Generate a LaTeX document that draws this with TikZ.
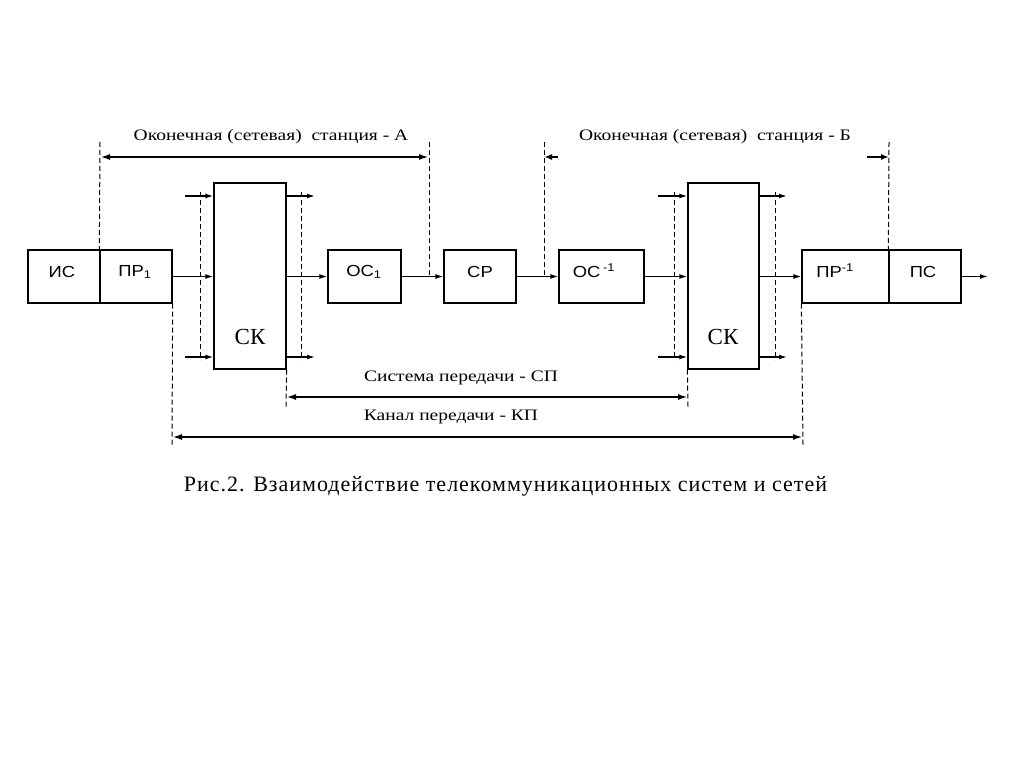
\documentclass[tikz,border=0pt]{standalone}
\usepackage{fontspec}
\setmainfont{Liberation Serif}
\newfontfamily\arialf[FakeStretch=1.15]{Liberation Sans}
\newfontfamily\lblf[FakeStretch=1.22]{Liberation Serif}
\newfontfamily\capf[LetterSpace=4.5]{Liberation Serif}
\usetikzlibrary{arrows.meta}
\tikzset{
  blk/.style={draw,line width=1.3pt,minimum height=53pt,inner sep=0pt},
  btxt/.style={font=\arialf\fontsize{16}{18}\selectfont,inner sep=0pt},
  cktxt/.style={font=\fontsize{23}{26}\selectfont,inner sep=0pt},
  dimtxt/.style={font=\lblf\fontsize{16}{18}\selectfont,inner sep=0pt},
  flow/.style={line width=1.3pt,-{Latex[length=8pt,width=5pt]}},
  dsh/.style={line width=1pt,dash pattern=on 5pt off 3pt},
  dimline/.style={line width=2pt,{Latex[length=10pt,width=6pt]}-{Latex[length=10pt,width=6pt]}},
  tick/.style={line width=2pt,-{Latex[length=8pt,width=6pt]}},
}
\begin{document}
\begin{tikzpicture}[x=1pt,y=-1pt]
\useasboundingbox (0,0) rectangle (1024,767);
% boxes
\node[blk,minimum width=72pt] (is) at (64,276.5) {};
\node[blk,minimum width=72pt] (pr1) at (136,276.5) {};
\node[blk,minimum width=72pt,minimum height=186pt] (ck1) at (250,276) {};
\node[blk,minimum width=73pt] (oc1) at (364.5,276.5) {};
\node[blk,minimum width=72pt] (cp) at (480,276.5) {};
\node[blk,minimum width=85pt] (oci) at (601.5,276.5) {};
\node[blk,minimum width=71pt,minimum height=186pt] (ck2) at (723.5,276) {};
\node[blk,minimum width=87pt] (pri) at (845.5,276.5) {};
\node[blk,minimum width=72pt] (pc) at (925,276.5) {};
% labels
\node[btxt] (tis) at (62,272) {ИС};
\node[btxt] (tpr1) at (135,272) {ПР\textsubscript{1}};
\node[btxt] (toc1) at (364,272) {ОС\textsubscript{1}};
\node[btxt] (tcp) at (480,272) {СР};
\node[btxt] (toci) at (594,271) {ОС\,\textsuperscript{-1}};
\node[btxt] (tpri) at (835,271) {ПР\textsuperscript{-1}};
\node[btxt] (tpc) at (923,272) {ПС};
\node[cktxt] (tck1) at (250,337) {СК};
\node[cktxt] (tck2) at (723,337) {СК};
% main flow
\draw[flow] (pr1.east) -- (pr1.east -| ck1.west);
\draw[flow] (oc1.west -| ck1.east) -- (oc1.west);
\draw[flow] (oc1.east) -- (cp.west);
\draw[flow] (cp.east) -- (oci.west);
\draw[flow] (oci.east) -- (oci.east -| ck2.west);
\draw[flow] (pri.west -| ck2.east) -- (pri.west);
\coordinate (out) at (988,276.5);
\draw[flow] (pc.east) -- (out);
% side inputs/outputs of switches
\coordinate (i1t) at (185,196); \coordinate (i1b) at (185,357);
\coordinate (o1t) at (315,196); \coordinate (o1b) at (315,357);
\coordinate (i2t) at (658,196); \coordinate (i2b) at (658,357);
\coordinate (o2t) at (787,196); \coordinate (o2b) at (787,357);
\draw[flow] (i1t) -- (i1t -| ck1.west);
\draw[flow] (i1b) -- (i1b -| ck1.west);
\draw[flow] (o1t -| ck1.east) -- (o1t);
\draw[flow] (o1b -| ck1.east) -- (o1b);
\draw[flow] (i2t) -- (i2t -| ck2.west);
\draw[flow] (i2b) -- (i2b -| ck2.west);
\draw[flow] (o2t -| ck2.east) -- (o2t);
\draw[flow] (o2b -| ck2.east) -- (o2b);
% dashed interface lines at switches
\coordinate (v1) at (200,192); \coordinate (v1e) at (200,360);
\coordinate (v2) at (301,192); \coordinate (v2e) at (301,360);
\coordinate (v3) at (674,192); \coordinate (v3e) at (674,360);
\coordinate (v4) at (775,192); \coordinate (v4e) at (775,360);
\draw[dsh] (v1) -- (v1e);
\draw[dsh] (v2) -- (v2e);
\draw[dsh] (v3) -- (v3e);
\draw[dsh] (v4) -- (v4e);
% dashed boundary lines
\coordinate (ta1) at (100,142);
\coordinate (ta2) at (429,142);
\coordinate (tb1) at (544,142);
\coordinate (tb2) at (889,142);
\draw[dsh] (ta1) -- (pr1.north west);
\draw[dsh] (ta2) -- (ta2 |- oc1.east);
\draw[dsh] (tb1) -- (tb1 |- cp.east);
\draw[dsh] (tb2) -- (pc.north west);
\coordinate (bk1) at (172,445);
\coordinate (bk2) at (803,445);
\coordinate (bs1) at (286,407);
\coordinate (bs2) at (688,407);
\draw[dsh] (pr1.south east) -- (bk1);
\draw[dsh] (pri.south west) -- (bk2);
\draw[dsh] (ck1.south east) -- (bs1);
\draw[dsh] (ck2.south west) -- (bs2);
% dimension arrows
\coordinate (da1) at (100,157); \coordinate (da2) at (429,157);
\draw[dimline] (da1) -- (da2);
\coordinate (db1) at (544,157); \coordinate (db1e) at (558,157);
\coordinate (db2) at (889,157); \coordinate (db2s) at (867,157);
\draw[tick] (db1e) -- (db1);
\draw[tick] (db2s) -- (db2);
\coordinate (ds1) at (286,397); \coordinate (ds2) at (688,397);
\draw[dimline] (ds1) -- (ds2);
\coordinate (dk1) at (172,437); \coordinate (dk2) at (803,437);
\draw[dimline] (dk1) -- (dk2);
% dimension texts
\node[dimtxt] (la) at (271,137) {Оконечная (сетевая)\ \ станция - А};
\node[dimtxt] (lb) at (715,137) {Оконечная (сетевая)\ \ станция - Б};
\node[dimtxt] (ls) at (461,378) {Система передачи - СП};
\node[dimtxt] (lk) at (451,417) {Канал передачи - КП};
% caption
\node[font=\capf\fontsize{22}{26}\selectfont,inner sep=0pt] (cap) at (505.5,486) {Рис.2. Взаимодействие телекоммуникационных систем и сетей};
\end{tikzpicture}
\end{document}
